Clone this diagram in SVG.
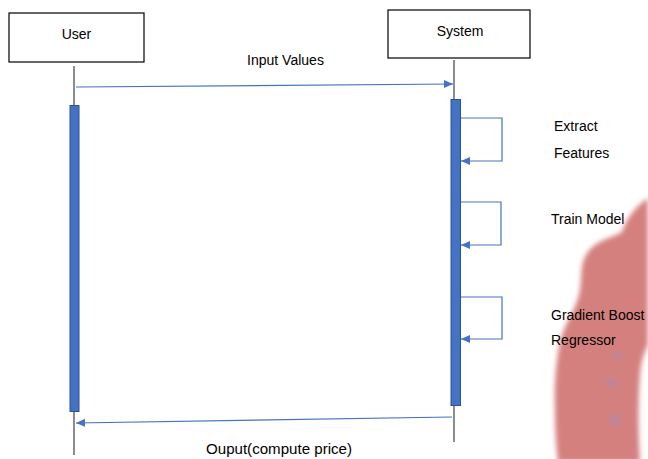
<svg xmlns="http://www.w3.org/2000/svg" width="648" height="459" viewBox="0 0 648 459">
<style>
  .box{fill:#fff;stroke:#000;stroke-width:1.2}
  .life{stroke:#404040;stroke-width:1.2;fill:none}
  .bar{fill:#4472C4;stroke:#2F528F;stroke-width:1}
  .msg{stroke:#4472C4;stroke-width:1.2;fill:none}
  .t{font-family:"Liberation Sans",Arial,sans-serif;font-size:14px;fill:#000}
</style>
<defs>
  <marker id="ah" markerWidth="10" markerHeight="10" refX="9" refY="5" orient="auto" markerUnits="userSpaceOnUse">
    <path d="M0,1 L9,5 L0,9 Z" fill="#4472C4"/>
  </marker>
  <filter id="blur" x="-20%" y="-20%" width="140%" height="140%"><feGaussianBlur stdDeviation="2.5"/></filter>
</defs>
<g id="watermark" filter="url(#blur)">
  <path fill="#d4807e" d="M648,198 C638,205 628,215 622,232 C612,238 596,240 588,252 C580,262 582,275 580,290 C578,305 568,318 562,335 C556,355 554,385 555,410 C555,430 556,445 558,462 L640,462 C638,430 638,400 640,375 C641,362 644,352 648,345 Z"/>
  <ellipse cx="612" cy="383" rx="6" ry="5" fill="#a88ab0" opacity="0.6"/>
  <ellipse cx="615" cy="420" rx="6" ry="5" fill="#a88ab0" opacity="0.6"/>
  <ellipse cx="617" cy="355" rx="5" ry="4" fill="#a88ab0" opacity="0.5"/>
</g>
<g id="user">
  <rect class="box" x="9" y="13" width="135" height="49"/>
  <text class="t" x="76.5" y="39" text-anchor="middle">User</text>
  <line class="life" x1="74" y1="66" x2="74" y2="455"/>
  <rect class="bar" x="70" y="105.5" width="9" height="306"/>
</g>
<g id="system">
  <rect class="box" x="388" y="10" width="142" height="48"/>
  <text class="t" x="460" y="36" text-anchor="middle">System</text>
  <line class="life" x1="454" y1="60" x2="454" y2="442"/>
  <rect class="bar" x="451" y="99.5" width="9.5" height="306"/>
</g>
<g id="connectors">
  <line class="msg" x1="76" y1="87" x2="453" y2="84" marker-end="url(#ah)"/>
  <polyline class="msg" points="461,118 502,118 502,161 461,161" marker-end="url(#ah)"/>
  <polyline class="msg" points="461,202 501,202 501,245 461,245" marker-end="url(#ah)"/>
  <polyline class="msg" points="461,297 502,297 502,339 461,339" marker-end="url(#ah)"/>
  <line class="msg" x1="452" y1="417" x2="76" y2="423" marker-end="url(#ah)"/>
</g>
<g id="labels">
  <text class="t" x="285.5" y="65" text-anchor="middle">Input Values</text>
  <text class="t" x="554" y="131">Extract</text>
  <text class="t" x="554" y="158">Features</text>
  <text class="t" x="551" y="224">Train Model</text>
  <text class="t" x="551" y="320">Gradient Boost</text>
  <text class="t" x="551" y="345">Regressor</text>
  <text class="t" x="206" y="454" textLength="146" lengthAdjust="spacingAndGlyphs">Ouput(compute price)</text>
</g>
</svg>
